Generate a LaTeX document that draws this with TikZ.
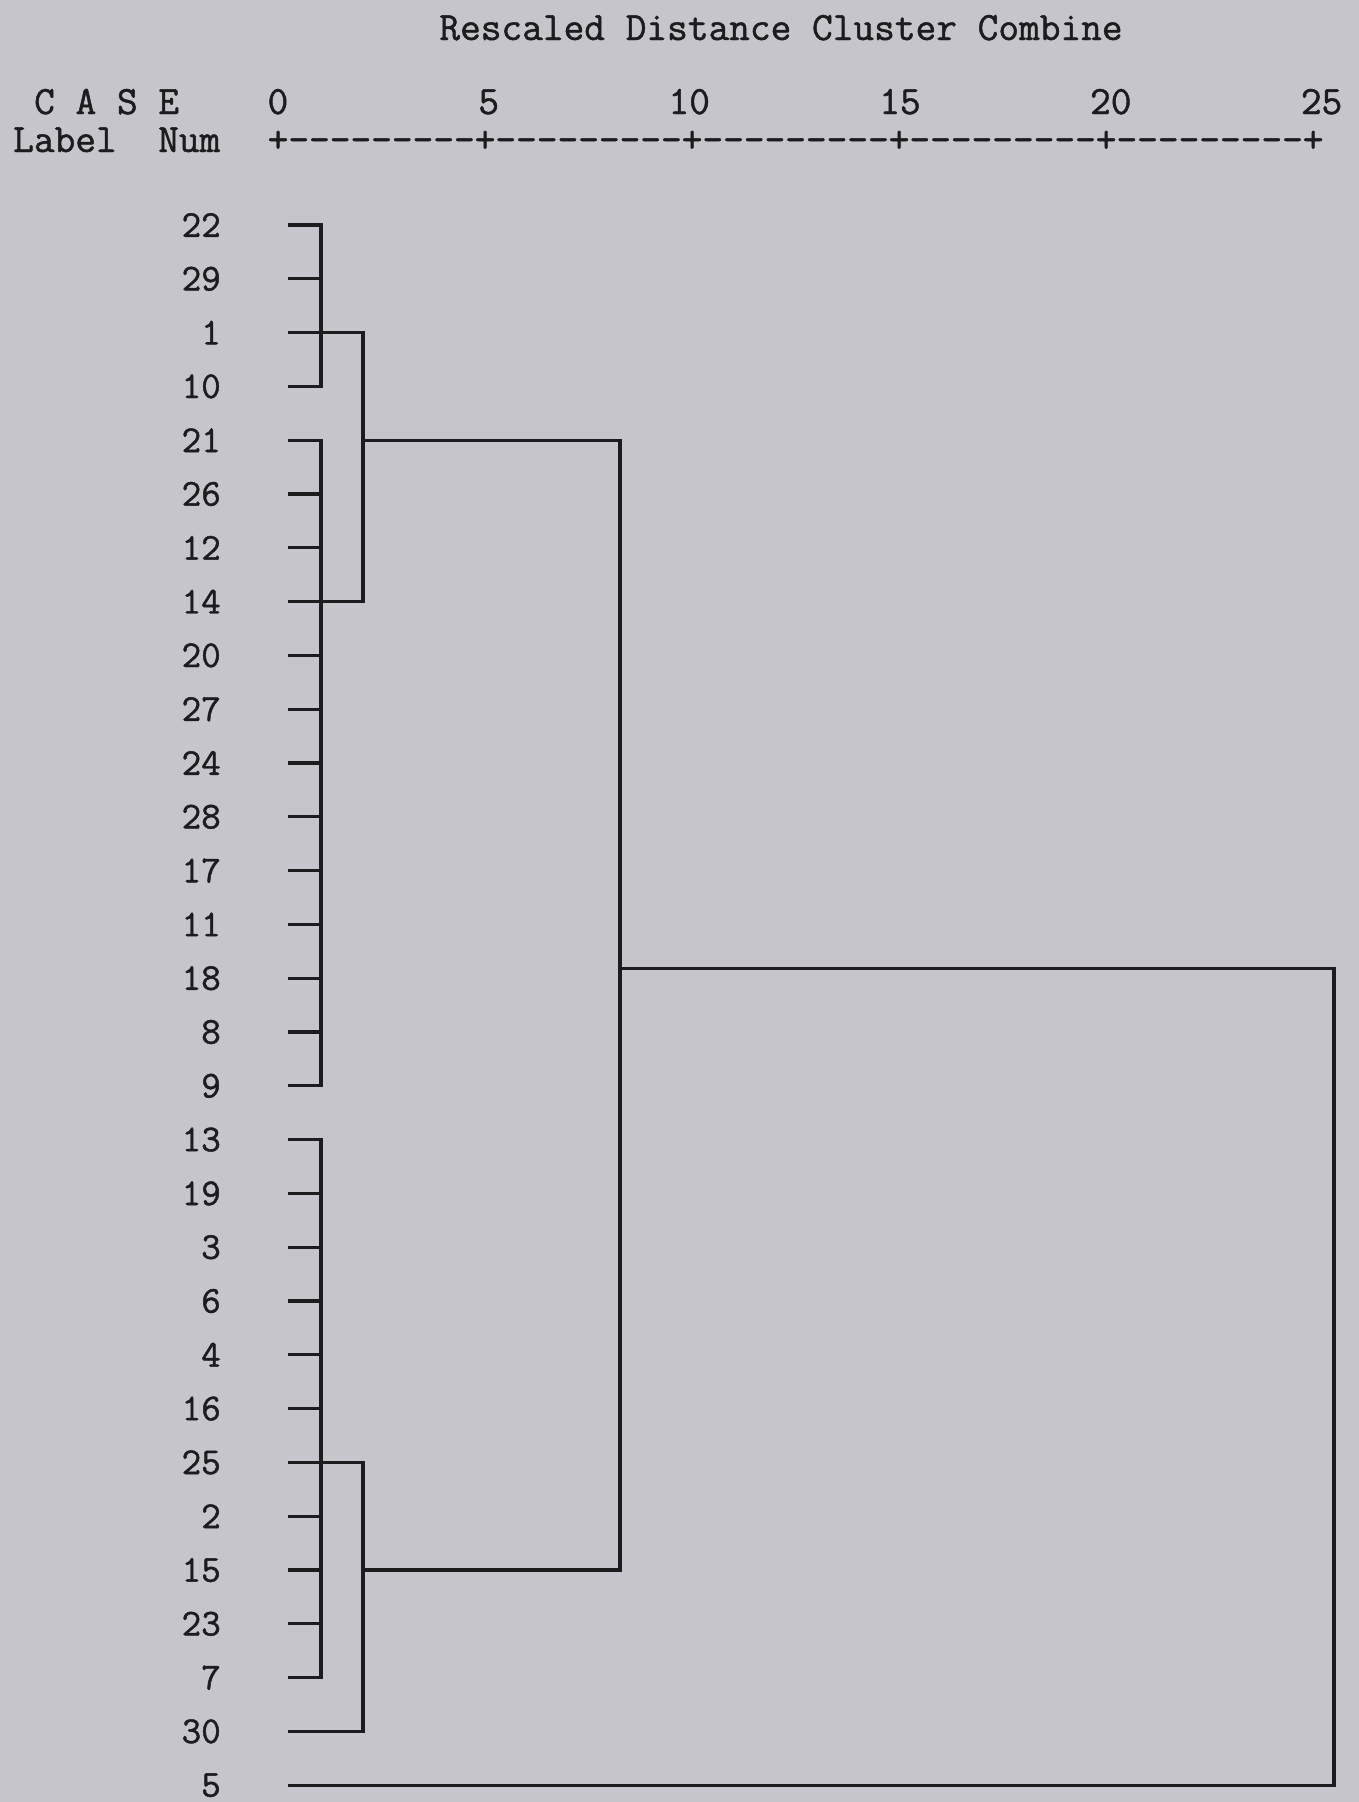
\documentclass[tikz,border=0pt]{standalone}
\usepackage{fontspec}
\setmonofont[FakeBold=1.2]{Latin Modern Mono}
\usetikzlibrary{positioning}
\definecolor{paper}{RGB}{197,197,203}
\definecolor{ink}{RGB}{28,28,30}

\begin{document}
\begin{tikzpicture}[x=1pt, y=-1pt,
    spss/.style={font=\ttfamily\fontsize{40.2}{48}\selectfont, text=ink, inner sep=0pt},
    caselab/.style={spss, font=\ttfamily\fontsize{38}{46}\selectfont, anchor=east},
    tick/.style={spss, anchor=base east},
    tree/.style={draw=ink, line width=3.2pt}]
    % Page
    \useasboundingbox (0,0) rectangle (1359,1802);
    \fill[paper] (0,0) rectangle (1359,1802);
    % Header
    \node[spss, anchor=base] (title) at (781,40) {Rescaled Distance Cluster Combine};
    \node[spss, anchor=base west] (case) at (34,114) {C A S E};
    \node[spss, anchor=base west] (lbl) at (13,152) {Label};
    \node[spss, anchor=base west] (num) at (158,152) {Num};
    % Axis
    \foreach \v [count=\k from 0] in {0,5,10,15,20,25}
        \node[tick] (t\v) at ({278+\k*210.8+10.5},114) {\v};
    \node[spss, anchor=base west] (axis) at (267.5,152) {+---------+---------+---------+---------+---------+};
    % Cases
    \foreach \c [count=\i from 0] in {22,29,1,10,21,26,12,14,20,27,24,28,17,11,18,8,9,13,19,3,6,4,16,25,2,15,23,7,30,5} {
        \node[caselab] (n\c) at (221,{225+\i*53.8}) {\c};
        \coordinate (s\c) at (288,{225+\i*53.8});
    }
    % Distance levels
    \coordinate (d1) at (321,0);
    \coordinate (d2) at (363,0);
    \coordinate (d3) at (620,0);
    \coordinate (d4) at (1334,0);
    \coordinate (join) at ([yshift=10pt]s18);
    % First merges
    \foreach \c in {29,26,12,20,27,24,28,17,11,18,8,19,3,6,4,16,2,15,23}
        \draw[tree] (s\c) -- (s\c -| d1);
    \draw[tree] (s22) -| (s10 -| d1) -- (s10);
    \draw[tree] (s21) -| (s9 -| d1) -- (s9);
    \draw[tree] (s13) -| (s7 -| d1) -- (s7);
    % Second merges
    \draw[tree] (s1) -| (s14 -| d2) -- (s14);
    \draw[tree] (s25) -| (s30 -| d2) -- (s30);
    % Third merge
    \draw[tree] (s21 -| d2) -| (s15 -| d3) -- (s15 -| d2);
    % Last merge
    \draw[tree] (join -| d3) -| (s5 -| d4) -- (s5);
\end{tikzpicture}
\end{document}
